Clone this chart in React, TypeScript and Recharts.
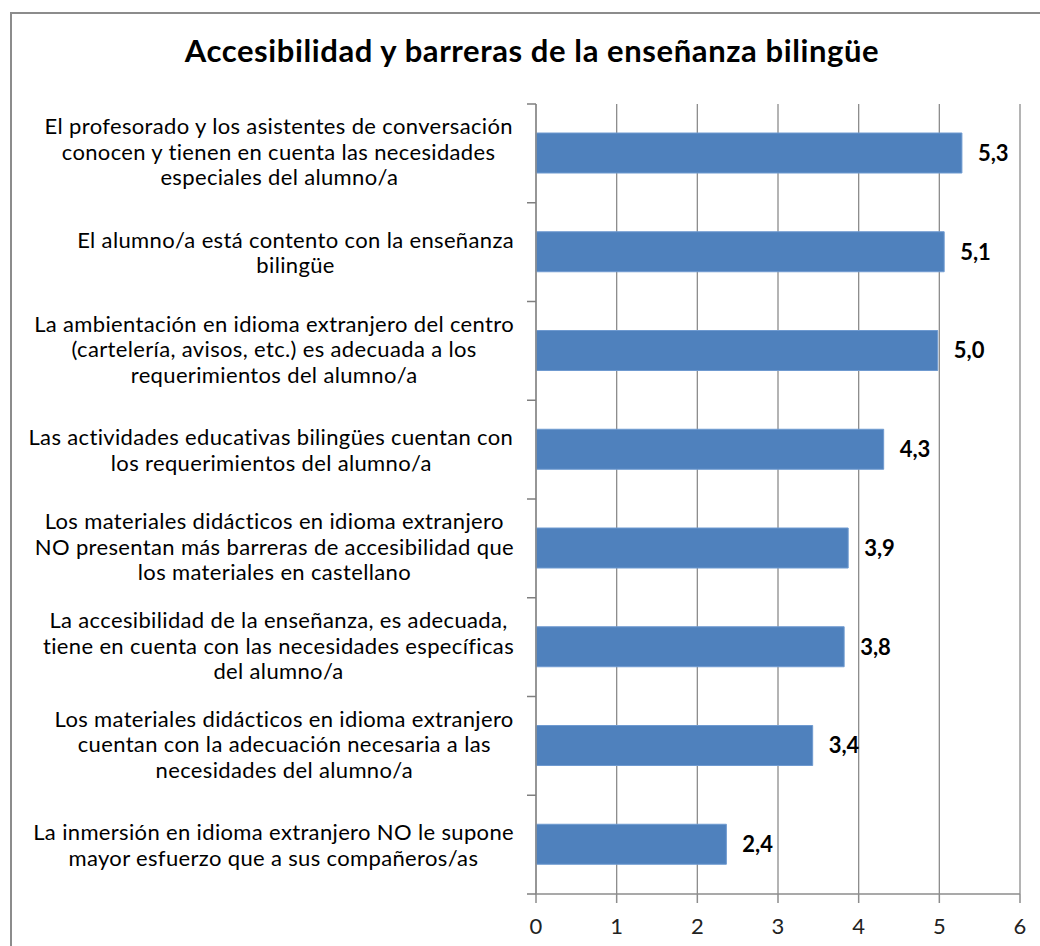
import React from "react";
import { BarChart, Bar, XAxis, YAxis, CartesianGrid, LabelList } from "recharts";

const TITLE = "Accesibilidad y barreras de la enseñanza bilingüe";

const categories: string[] = [
  "El profesorado y los asistentes de conversación\nconocen y tienen en cuenta las necesidades\nespeciales del alumno/a",
  "El alumno/a está contento con la enseñanza\nbilingüe",
  "La ambientación en idioma extranjero del centro\n(cartelería, avisos, etc.) es adecuada a los\nrequerimientos del alumno/a",
  "Las actividades educativas bilingües cuentan con\nlos requerimientos del alumno/a",
  "Los materiales didácticos en idioma extranjero\nNO presentan más barreras de accesibilidad que\nlos materiales en castellano",
  "La accesibilidad de la enseñanza, es adecuada,\ntiene en cuenta con las necesidades específicas\ndel alumno/a",
  "Los materiales didácticos en idioma extranjero\ncuentan con la adecuación necesaria a las\nnecesidades del alumno/a",
  "La inmersión en idioma extranjero NO le supone\nmayor esfuerzo que a sus compañeros/as",
];

const values: number[] = [5.28, 5.06, 4.98, 4.31, 3.87, 3.82, 3.43, 2.36];

const xTicks: number[] = [0, 1, 2, 3, 4, 5, 6];

const data = categories.map((c, i) => ({ name: c, value: values[i] }));

const FONT = "Lato, 'Open Sans', sans-serif";
const LABEL_SIZE = 22;
const LABEL_LS = 0.35;

let ctx: CanvasRenderingContext2D | null = null;
function measure(text: string, font: string, ls: number): number {
  if (!ctx) {
    const c = document.createElement("canvas");
    ctx = c.getContext("2d");
  }
  if (!ctx) return text.length * 10;
  ctx.font = font;
  return ctx.measureText(text).width + text.length * ls;
}

const CategoryTick = (props: any) => {
  const { x, y, payload } = props;
  const lines: string[] = String(payload.value).split("\n");
  const font = `${LABEL_SIZE}px Lato`;
  const widths = lines.map((l) => measure(l, font, LABEL_LS));
  const maxW = Math.max(...widths);
  const right = x - 22;
  const lh = 25.5;
  const startY = y - ((lines.length - 1) * lh) / 2 - (lines.length > 2 ? 2 : 0);
  const half = payload.offset || 0;
  return (
    <g>
      <line x1={x - 9} x2={x} y1={y - half} y2={y - half} stroke="#7f7f7f" strokeWidth={1.5} />
      {props.index === categories.length - 1 ? (
        <line x1={x - 9} x2={x} y1={y + half} y2={y + half} stroke="#7f7f7f" strokeWidth={1.5} />
      ) : null}
      {lines.map((l, i) => {
        const cx = right - maxW / 2 - widths[i] / 2;
        return (
          <text
            key={i}
            x={cx}
            y={startY + i * lh}
            textAnchor="start"
            fontFamily={FONT}
            fontSize={LABEL_SIZE}
            letterSpacing={LABEL_LS}
            fill="#000"
            dominantBaseline="central"
          >
            {l}
          </text>
        );
      })}
    </g>
  );
};

export default function App() {
  return (
    <div
      style={{
        position: "absolute",
        left: 0,
        top: 0,
        width: 1040,
        height: 946,
        overflow: "hidden",
        background: "#fff",
      }}
    >
      <div
        style={{
          position: "absolute",
          left: 10,
          top: 12,
          width: 1100,
          height: 1000,
          border: "2px solid #8c8c8c",
        }}
      />
      <div
        style={{
          position: "absolute",
          left: 0,
          top: 31,
          width: 1064,
          textAlign: "center",
          fontFamily: FONT,
          fontWeight: 700,
          fontSize: 31,
          letterSpacing: 0.6,
          lineHeight: "normal",
          color: "#000",
        }}
      >
        {TITLE}
      </div>
      <div style={{ position: "absolute", left: 0, top: 0 }}>
        <BarChart
          width={1040}
          height={946}
          data={data}
          layout="vertical"
          margin={{ top: 104, right: 20, bottom: 12, left: 0 }}
          barSize={40}
        >
          <CartesianGrid vertical={true} horizontal={false} stroke="#8c8c8c" strokeWidth={1.3} />
          <XAxis
            type="number"
            domain={[0, 6]}
            ticks={xTicks}
            height={40}
            tickSize={9}
            tickMargin={15}
            axisLine={{ stroke: "#8c8c8c", strokeWidth: 1.5 }}
            tickLine={{ stroke: "#8c8c8c", strokeWidth: 1.5 }}
            tick={{ fontFamily: FONT, fontSize: 22, fill: "#222" }}
          />
          <YAxis
            type="category"
            dataKey="name"
            width={536}
            interval={0}
            tickLine={false}
            tickSize={0}
            tickMargin={0}
            axisLine={{ stroke: "#8c8c8c", strokeWidth: 1.5 }}
            tick={<CategoryTick />}
          />
          <Bar dataKey="value" fill="#4F81BD" stroke="#6f9ad0" strokeWidth={1} isAnimationActive={false}>
            <LabelList
              dataKey="value"
              position="right"
              offset={16}
              formatter={(v: any) => Number(v).toFixed(1).replace(".", ",")}
              style={{ fontFamily: FONT, fontSize: 22, fontWeight: 700, fill: "#000" }}
            />
          </Bar>
        </BarChart>
      </div>
    </div>
  );
}
